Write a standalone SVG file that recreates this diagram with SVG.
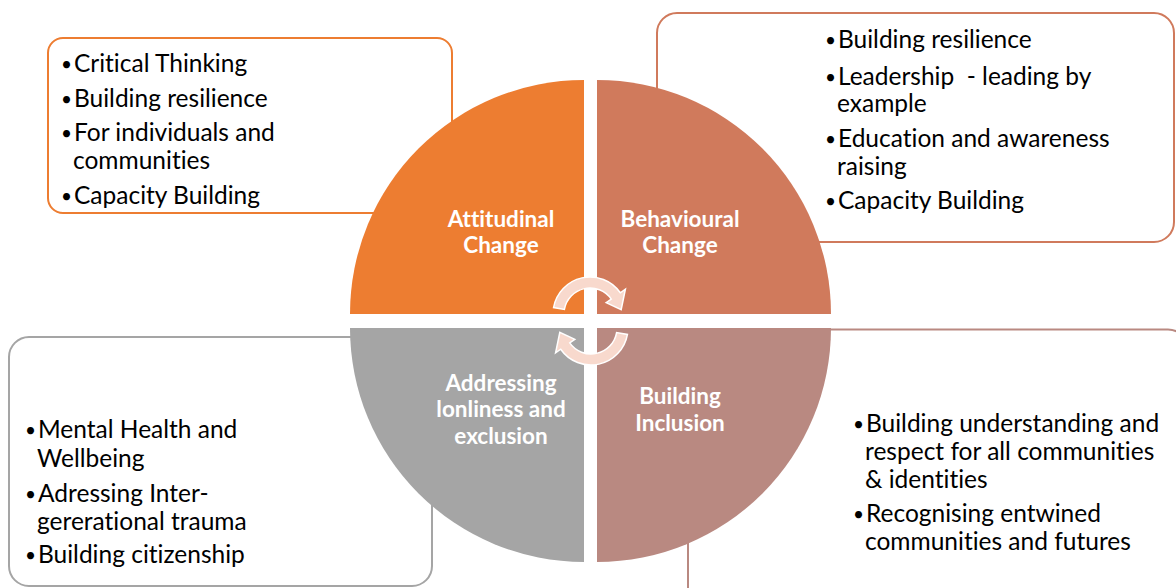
<svg xmlns="http://www.w3.org/2000/svg" width="1176" height="588" viewBox="0 0 1176 588">
<style>
.box{fill:#fff;stroke-width:2}
.t{font-family:Lato,"Liberation Sans",sans-serif;font-size:24.5px;fill:#000;font-variant-ligatures:none;white-space:pre}
.b{font-family:Lato,"Liberation Sans",sans-serif;font-size:19px;fill:#000}
.lbl{font-family:Lato,"Liberation Sans",sans-serif;font-size:22.5px;font-weight:bold;fill:#fff;text-anchor:middle;font-variant-ligatures:none}
.arr{fill:#F8D9CD;stroke:#fff;stroke-width:1.5}
</style>
<rect width="1176" height="588" fill="#fff"/>
<g id="box-attitudinal">
<rect class="box" x="48" y="38" width="404" height="175" rx="15" stroke="#ED7D31"/>
<text class="b" x="61" y="71">•</text><text class="t" x="74" y="72">Critical Thinking</text>
<text class="b" x="61" y="106">•</text><text class="t" x="74" y="107">Building resilience</text>
<text class="b" x="61" y="140">•</text><text class="t" x="74" y="141">For individuals and</text>
<text class="t" x="73" y="169">communities</text>
<text class="b" x="61" y="203">•</text><text class="t" x="74" y="204">Capacity Building</text>
</g>
<g id="box-behavioural">
<rect class="box" x="657" y="13" width="517" height="229" rx="20" stroke="#D07A5C"/>
<text class="b" x="825" y="47">•</text><text class="t" x="838" y="48">Building resilience</text>
<text class="b" x="825" y="84">•</text><text class="t" x="838" y="85">Leadership  - leading by</text>
<text class="t" x="837" y="112">example</text>
<text class="b" x="825" y="146">•</text><text class="t" x="838" y="147">Education and awareness</text>
<text class="t" x="837" y="175">raising</text>
<text class="b" x="825" y="208">•</text><text class="t" x="838" y="209">Capacity Building</text>
</g>
<g id="box-addressing">
<rect class="box" x="9" y="337" width="423" height="249" rx="20" stroke="#A5A5A5"/>
<text class="b" x="25" y="437">•</text><text class="t" x="38" y="438">Mental Health and</text>
<text class="t" x="37" y="467">Wellbeing</text>
<text class="b" x="25" y="501">•</text><text class="t" x="38" y="502">Adressing Inter-</text>
<text class="t" x="37" y="530">gererational trauma</text>
<text class="b" x="25" y="562">•</text><text class="t" x="38" y="563">Building citizenship</text>
</g>
<g id="box-inclusion">
<rect class="box" x="688" y="329.5" width="500" height="280" rx="20" stroke="#B98981"/>
<text class="b" x="853" y="431">•</text><text class="t" x="866" y="432">Building understanding and</text>
<text class="t" x="865" y="460">respect for all communities</text>
<text class="t" x="865" y="488">&amp; identities</text>
<text class="b" x="853" y="521">•</text><text class="t" x="866" y="522">Recognising entwined</text>
<text class="t" x="865" y="550">communities and futures</text>
</g>
<g id="q-attitudinal">
<path d="M584,314 L350,314 A234,234 0 0 1 584,80 Z" fill="#ED7D31"/>
<text class="lbl" x="501" y="227">Attitudinal</text>
<text class="lbl" x="501" y="253">Change</text>
</g>
<g id="q-behavioural">
<path d="M597,314 L597,80 A234,234 0 0 1 831,314 Z" fill="#D07A5C"/>
<text class="lbl" x="680" y="227">Behavioural</text>
<text class="lbl" x="680" y="253">Change</text>
</g>
<g id="q-addressing">
<path d="M584,328 L584,562 A234,234 0 0 1 350,328 Z" fill="#A5A5A5"/>
<text class="lbl" x="501" y="391">Addressing</text>
<text class="lbl" x="501" y="417">lonliness and</text>
<text class="lbl" x="501" y="444">exclusion</text>
</g>
<g id="q-inclusion">
<path d="M597,328 L831,328 A234,234 0 0 1 597,562 Z" fill="#B98981"/>
<text class="lbl" x="680" y="404">Building</text>
<text class="lbl" x="680" y="431">Inclusion</text>
</g>
<g id="connectors">
<path id="arrow-top" class="arr" d="M553.56,307.58 A37,37 0 0 1 620.31,292.78 L625.4,289.2 L621.19,309.62 L606.2,302.6 L611.30,299.09 A26,26 0 0 0 564.39,309.49 Z"/>
<path id="arrow-bottom" class="arr" transform="rotate(180 590.5 321)" d="M553.56,307.58 A37,37 0 0 1 620.31,292.78 L625.4,289.2 L621.19,309.62 L606.2,302.6 L611.30,299.09 A26,26 0 0 0 564.39,309.49 Z"/>
</g>
</svg>
